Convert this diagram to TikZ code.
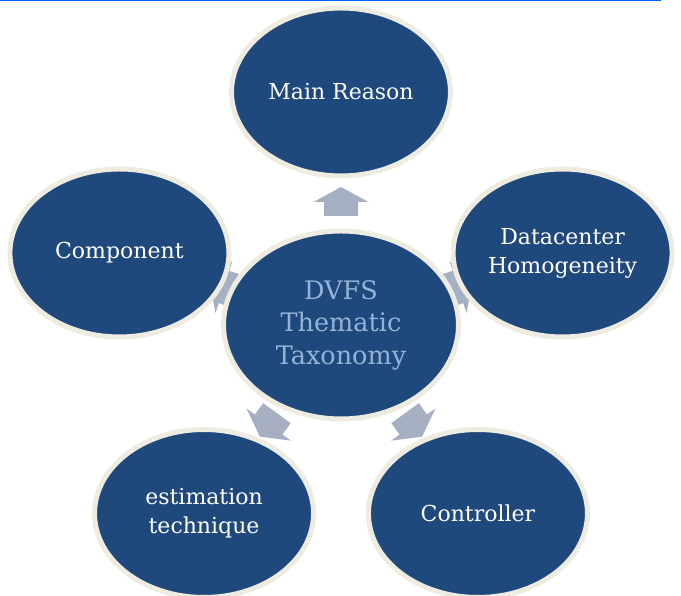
\documentclass[tikz,border=0pt]{standalone}
\usepackage{fontspec}
\setmainfont{DejaVu Serif}
\usetikzlibrary{shapes.geometric,calc,backgrounds}
\definecolor{nodeblue}{RGB}{31,73,125}
\definecolor{rimcream}{RGB}{238,236,225}
\definecolor{arrowgrey}{RGB}{167,175,195}
\definecolor{centertext}{RGB}{149,179,215}
\definecolor{linkblue}{RGB}{0,102,255}
\begin{document}
\begin{tikzpicture}[x=1pt,y=1pt,
  bubble/.style={ellipse, fill=nodeblue, draw=rimcream, line width=5pt, inner sep=0pt,
    minimum width=219pt, minimum height=168pt, text=white,
    font=\fontsize{22}{29}\selectfont, align=center},
  hub/.style={bubble, minimum width=235pt, minimum height=188pt, text=centertext,
    font=\fontsize{25.5}{32.5}\selectfont},
  blockarrow/.style={fill=arrowgrey}]
\useasboundingbox (0,0) rectangle (681,596);
\draw[linkblue, line width=1.5pt] (0,595.3) -- (661,595.3);
\node[hub] (hub) at (341,271) {DVFS\\Thematic\\Taxonomy};
\node[bubble] (reason) at ($(hub.center)+(90:233)$) {Main Reason};
\node[bubble] (homog) at ($(hub.center)+(18:233)$) {Datacenter\\Homogeneity};
\node[bubble] (ctrl) at ($(hub.center)+(306:233)$) {Controller};
\node[bubble] (estim) at ($(hub.center)+(234:233)$) {estimation\\technique};
\node[bubble] (comp) at ($(hub.center)+(162:233)$) {Component};
\begin{scope}[on background layer]
\foreach \a in {90,18,306,234,162}{
  \fill[blockarrow, shift={(hub.center)}, rotate=\a-90]
    (-17,109) -- (17,109) -- (17,123) -- (27.5,123) -- (0,138) -- (-27.5,123) -- (-17,123) -- cycle;
}
\end{scope}
\end{tikzpicture}
\end{document}
